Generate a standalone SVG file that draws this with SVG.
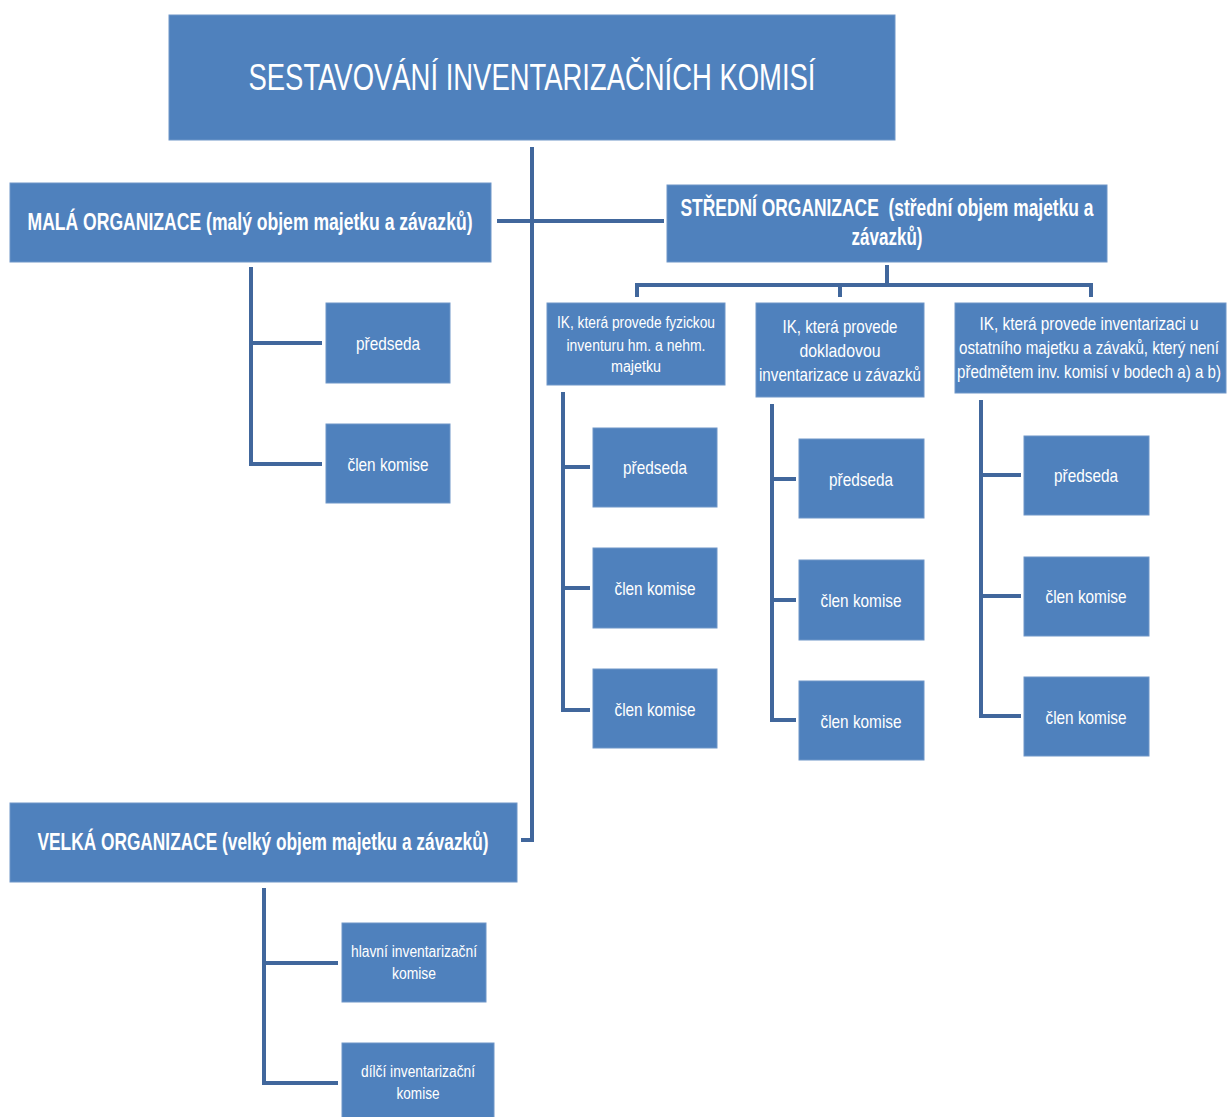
<svg xmlns="http://www.w3.org/2000/svg" width="1227" height="1117" viewBox="0 0 1227 1117">
<style>
.box{fill:#4F81BD;stroke:#6F96C8;stroke-width:1}
.t{font-family:"Liberation Sans",Arial,sans-serif;fill:#fff;text-anchor:middle}
.l{font-size:19px}
.s{font-size:16px}
.b{font-size:23px;font-weight:bold}
.c{fill:none;stroke:#41679C;stroke-width:4}
</style>
<rect width="1227" height="1117" fill="#fff"/>
<g id="connectors">
<path class="c" d="M532 147 V840 H521"/>
<path class="c" d="M497 221 H664"/>
<path class="c" d="M251 267 V464 H322 M251 343 H322"/>
<path class="c" d="M887 265 V285 M637 297 V285 H1091 V297 M840 285 V297"/>
<path class="c" d="M563 392 V710 H590 M563 467 H590 M563 588 H590"/>
<path class="c" d="M772 404 V720 H796 M772 479 H796 M772 600 H796"/>
<path class="c" d="M981 400 V716 H1021 M981 475 H1021 M981 596 H1021"/>
<path class="c" d="M264 888 V1083 H338 M264 963 H338"/>
</g>
<g id="title"><rect class="box" x="169" y="15" width="726" height="125"/>
<text class="t" x="532" y="90" font-size="37" textLength="567" lengthAdjust="spacingAndGlyphs">SESTAVOVÁNÍ INVENTARIZAČNÍCH KOMISÍ</text></g>
<g id="mala"><rect class="box" x="10" y="183" width="481" height="79"/>
<text class="t b" x="250" y="230" textLength="445" lengthAdjust="spacingAndGlyphs">MALÁ ORGANIZACE (malý objem majetku a závazků)</text></g>
<g id="stredni"><rect class="box" x="667" y="185" width="440" height="77"/>
<text class="t b" x="887" y="216" textLength="413" lengthAdjust="spacingAndGlyphs" xml:space="preserve">STŘEDNÍ ORGANIZACE  (střední objem majetku a</text>
<text class="t b" x="887" y="245" textLength="71" lengthAdjust="spacingAndGlyphs">závazků)</text></g>
<g id="velka"><rect class="box" x="10" y="803" width="507" height="79"/>
<text class="t b" x="263" y="850" textLength="451" lengthAdjust="spacingAndGlyphs">VELKÁ ORGANIZACE (velký objem majetku a závazků)</text></g>
<g id="mala-predseda"><rect class="box" x="326" y="303" width="124" height="80"/>
<text class="t l" x="388" y="350" textLength="64" lengthAdjust="spacingAndGlyphs">předseda</text></g>
<g id="mala-clen"><rect class="box" x="326" y="424" width="124" height="79"/>
<text class="t l" x="388" y="471" textLength="81" lengthAdjust="spacingAndGlyphs">člen komise</text></g>
<g id="ik1"><rect class="box" x="547" y="303" width="178" height="82"/>
<text class="t s" x="636" y="328" textLength="158" lengthAdjust="spacingAndGlyphs">IK, která provede fyzickou</text>
<text class="t s" x="636" y="351" textLength="139" lengthAdjust="spacingAndGlyphs">inventuru hm. a nehm.</text>
<text class="t s" x="636" y="372" textLength="50" lengthAdjust="spacingAndGlyphs">majetku</text></g>
<g id="ik2"><rect class="box" x="756" y="303" width="168" height="94"/>
<text class="t l" x="840" y="333" textLength="115" lengthAdjust="spacingAndGlyphs">IK, která provede</text>
<text class="t l" x="840" y="357" textLength="81" lengthAdjust="spacingAndGlyphs">dokladovou</text>
<text class="t l" x="840" y="381" textLength="162" lengthAdjust="spacingAndGlyphs">inventarizace u závazků</text></g>
<g id="ik3"><rect class="box" x="955" y="303" width="271" height="90"/>
<text class="t l" x="1089" y="330" textLength="219" lengthAdjust="spacingAndGlyphs">IK, která provede inventarizaci u</text>
<text class="t l" x="1089" y="354" textLength="260" lengthAdjust="spacingAndGlyphs">ostatního majetku a závaků, který není</text>
<text class="t l" x="1089" y="378" textLength="264" lengthAdjust="spacingAndGlyphs">předmětem inv. komisí v bodech a) a b)</text></g>
<g id="ik1-predseda"><rect class="box" x="593" y="428" width="124" height="79"/>
<text class="t l" x="655" y="474" textLength="64" lengthAdjust="spacingAndGlyphs">předseda</text></g>
<g id="ik1-clen1"><rect class="box" x="593" y="548" width="124" height="80"/>
<text class="t l" x="655" y="595" textLength="81" lengthAdjust="spacingAndGlyphs">člen komise</text></g>
<g id="ik1-clen2"><rect class="box" x="593" y="669" width="124" height="79"/>
<text class="t l" x="655" y="716" textLength="81" lengthAdjust="spacingAndGlyphs">člen komise</text></g>
<g id="ik2-predseda"><rect class="box" x="799" y="439" width="125" height="79"/>
<text class="t l" x="861" y="486" textLength="64" lengthAdjust="spacingAndGlyphs">předseda</text></g>
<g id="ik2-clen1"><rect class="box" x="799" y="560" width="125" height="80"/>
<text class="t l" x="861" y="607" textLength="81" lengthAdjust="spacingAndGlyphs">člen komise</text></g>
<g id="ik2-clen2"><rect class="box" x="799" y="681" width="125" height="79"/>
<text class="t l" x="861" y="728" textLength="81" lengthAdjust="spacingAndGlyphs">člen komise</text></g>
<g id="ik3-predseda"><rect class="box" x="1024" y="436" width="125" height="79"/>
<text class="t l" x="1086" y="482" textLength="64" lengthAdjust="spacingAndGlyphs">předseda</text></g>
<g id="ik3-clen1"><rect class="box" x="1024" y="557" width="125" height="79"/>
<text class="t l" x="1086" y="603" textLength="81" lengthAdjust="spacingAndGlyphs">člen komise</text></g>
<g id="ik3-clen2"><rect class="box" x="1024" y="677" width="125" height="79"/>
<text class="t l" x="1086" y="724" textLength="81" lengthAdjust="spacingAndGlyphs">člen komise</text></g>
<g id="hlavni"><rect class="box" x="342" y="923" width="144" height="79"/>
<text class="t s" x="414" y="957" textLength="126" lengthAdjust="spacingAndGlyphs">hlavní inventarizační</text>
<text class="t s" x="414" y="979" textLength="44" lengthAdjust="spacingAndGlyphs">komise</text></g>
<g id="dilci"><rect class="box" x="342" y="1043" width="152" height="76"/>
<text class="t s" x="418" y="1077" textLength="114" lengthAdjust="spacingAndGlyphs">dílčí inventarizační</text>
<text class="t s" x="418" y="1099" textLength="43" lengthAdjust="spacingAndGlyphs">komise</text></g>
</svg>
